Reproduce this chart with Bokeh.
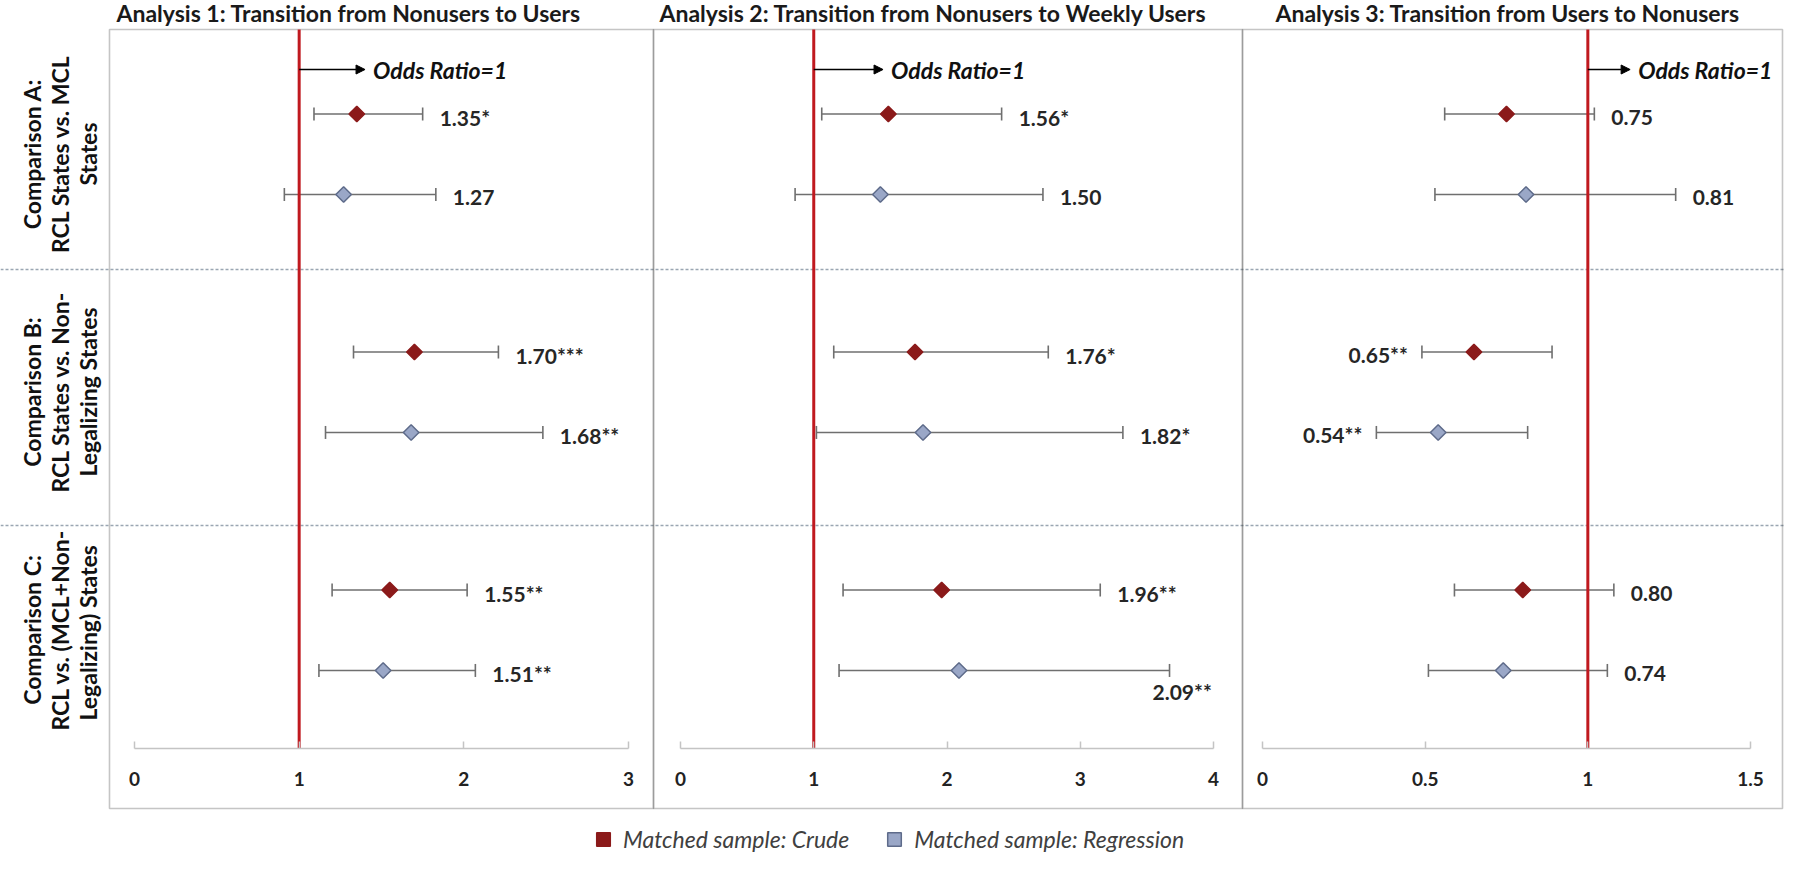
import math
from bokeh.plotting import figure
from bokeh.models import (Range1d, LinearAxis, FixedTicker, Whisker, TeeHead, ColumnDataSource,
                          Span, BoxAnnotation, Arrow, NormalHead, Legend, LegendItem)
from bokeh.embed import file_html
from bokeh.resources import INLINE
from bokeh.core.properties import value

# ---------------- data ----------------
panel_titles = ["Analysis 1: Transition from Nonusers to Users",
                "Analysis 2: Transition from Nonusers to Weekly Users",
                "Analysis 3: Transition from Users to Nonusers"]
comparisons = ["Comparison A:\nRCL States vs. MCL\nStates",
               "Comparison B:\nRCL States vs. Non-\nLegalizing States",
               "Comparison C:\nRCL vs. (MCL+Non-\nLegalizing)  States"]
x_ticks = [[0, 1, 2, 3], [0, 1, 2, 3, 4], [0, 0.5, 1, 1.5]]
x_tick_labels = [["0", "1", "2", "3"], ["0", "1", "2", "3", "4"], ["0", "0.5", "1", "1.5"]]
series_names = ["Matched sample: Crude", "Matched sample: Regression"]

# odds ratios per panel (Analysis 1..3), per comparison (A, B, C)
crude_or = [[1.35, 1.70, 1.55], [1.56, 1.76, 1.96], [0.75, 0.65, 0.80]]
crude_lo = [[1.09, 1.33, 1.20], [1.06, 1.15, 1.22], [0.56, 0.49, 0.59]]
crude_hi = [[1.75, 2.21, 2.02], [2.41, 2.76, 3.15], [1.02, 0.89, 1.08]]
crude_txt = [["1.35*", "1.70***", "1.55**"], ["1.56*", "1.76*", "1.96**"], ["0.75", "0.65**", "0.80"]]

reg_or = [[1.27, 1.68, 1.51], [1.50, 1.82, 2.09], [0.81, 0.54, 0.74]]
reg_lo = [[0.91, 1.16, 1.12], [0.86, 1.02, 1.19], [0.53, 0.35, 0.51]]
reg_hi = [[1.83, 2.48, 2.07], [2.72, 3.32, 3.67], [1.27, 0.815, 1.06]]
reg_txt = [["1.27", "1.68**", "1.51**"], ["1.50", "1.82*", "2.09**"], ["0.81", "0.54**", "0.74"]]

# label placement (layout): r = right of CI, l = left of CI, b = below right end
crude_pos = [["r", "r", "r"], ["r", "r", "r"], ["r", "l", "r"]]
reg_pos = [["r", "r", "r"], ["r", "r", "b"], ["r", "l", "r"]]

# ---------------- layout (page pixels) ----------------
W, H = 1784, 858
PX0, PY0 = 8, 8
box_x = [(117, 661), (661, 1250), (1250, 1790)]
box_top, box_bottom = 37, 816
axis_y = 756
axis_px = [(142, 636), (688, 1221), (1270, 1758)]
title_x = [124, 667, 1283]
title_y = 20
arrow_y = 77
arrow_end = [1.40, 1.52, 1.13]
sep_y = [277, 533]
grp_center0, grp_step = 161.5, 238.0
off_crude, off_reg = -0.168, 0.170

FONT = "Lato"
RED = "#C0191F"
CRUDE_C = "#8B1A1A"
REG_FILL = "#9AA7C7"
REG_LINE = "#5E6B8A"
BAR_C = "#6f6f6f"
BOX_C = "#404040"

p = figure(width=W, height=H, output_backend="svg", toolbar_location=None,
           x_range=Range1d(PX0, PX0 + W), y_range=Range1d(PY0 + H, PY0),
           x_axis_location=None, y_axis_location=None,
           min_border_left=0, min_border_right=0, min_border_top=0, min_border_bottom=0)
p.outline_line_color = None
p.xgrid.visible = False
p.ygrid.visible = False
p.background_fill_color = "white"

p.extra_y_ranges = {"rows": Range1d((PY0 + H - grp_center0) / grp_step, (PY0 - grp_center0) / grp_step)}

# separators
for sy in sep_y:
    p.add_layout(Span(location=sy, dimension="width", line_color="#9aa6b2", line_width=1.3,
                      line_dash="3 2", level="underlay"))

# panel boxes
for (bl, br) in box_x:
    p.add_layout(BoxAnnotation(left=bl, right=br, top=box_top, bottom=box_bottom,
                               fill_alpha=0, line_color=BOX_C, line_width=1.6, level="underlay"))

# titles
p.text(x=title_x, y=[title_y] * 3, text=panel_titles, text_font=value(FONT),
       text_font_style="bold", text_font_size="23px", text_color="#1a1a1a",
       text_baseline="middle", text_align="left")

# comparison labels axis
yax = LinearAxis(y_range_name="rows", fixed_location=box_x[0][0],
                 ticker=FixedTicker(ticks=[0, 1, 2]),
                 major_label_overrides={i: c for i, c in enumerate(comparisons)},
                 major_label_orientation="vertical",
                 axis_line_color=None, major_tick_line_color=None, minor_tick_line_color=None,
                 major_tick_in=0, major_tick_out=0,
                 major_label_text_font=FONT, major_label_text_font_style="bold",
                 major_label_text_font_size="23px", major_label_text_color="#111111",
                 major_label_standoff=8, major_label_text_line_height=1.0)
p.add_layout(yax, "left")

legend_renderers = {}
for i in range(3):
    name = f"p{i}"
    v0, v1 = x_ticks[i][0], x_ticks[i][-1]
    p0, p1 = axis_px[i]
    k = (v1 - v0) / (p1 - p0)
    p.extra_x_ranges[name] = Range1d(v0 + (PX0 - p0) * k, v0 + (PX0 + W - p0) * k)

    # x axis inside the box
    ax = LinearAxis(x_range_name=name, fixed_location=axis_y,
                    ticker=FixedTicker(ticks=x_ticks[i]), bounds=(v0, v1),
                    major_label_overrides={t: l for t, l in zip(x_ticks[i], x_tick_labels[i])},
                    axis_line_color="#c4c4c4", axis_line_width=1.5,
                    major_tick_line_color="#c4c4c4", major_tick_line_width=1.5,
                    major_tick_in=7, major_tick_out=0, minor_tick_line_color=None,
                    major_label_text_font=FONT, major_label_text_font_style="bold",
                    major_label_text_font_size="19px", major_label_text_color="#222222",
                    major_label_standoff=23)
    p.add_layout(ax, "below")

    # odds ratio = 1 reference line
    p.segment(x0=[1], x1=[1], y0=[box_top], y1=[axis_y], x_range_name=name,
              line_color=RED, line_width=3)
    p.add_layout(Arrow(x_start=1, x_end=arrow_end[i], y_start=arrow_y, y_end=arrow_y,
                       x_range_name=name, line_color="black", line_width=1.6,
                       end=NormalHead(size=9, fill_color="black", line_color="black")))
    p.text(x=[arrow_end[i]], y=[arrow_y], text=["Odds Ratio=1"], x_range_name=name,
           x_offset=8, text_font=value(FONT), text_font_style="bold italic",
           text_font_size="23px", text_color="#111111", text_baseline="middle")

    for (ors, los, his, txts, poss, off, fill, line, key) in [
            (crude_or, crude_lo, crude_hi, crude_txt, crude_pos, off_crude, CRUDE_C, CRUDE_C, 0),
            (reg_or, reg_lo, reg_hi, reg_txt, reg_pos, off_reg, REG_FILL, REG_LINE, 1)]:
        ys = [g + off for g in range(3)]
        lab_x, lab_align, lab_xo, lab_yo = [], [], [], []
        for g in range(3):
            pos = poss[i][g]
            if pos == "r":
                lab_x.append(his[i][g]); lab_align.append("left"); lab_xo.append(17); lab_yo.append(3)
            elif pos == "l":
                lab_x.append(los[i][g]); lab_align.append("right"); lab_xo.append(-14); lab_yo.append(2)
            else:
                lab_x.append(his[i][g]); lab_align.append("left"); lab_xo.append(-17); lab_yo.append(21)
        src = ColumnDataSource(dict(y=ys, orv=ors[i], lo=los[i], hi=his[i], txt=txts[i],
                                    lx=lab_x, la=lab_align, lxo=lab_xo, lyo=lab_yo))
        p.add_layout(Whisker(source=src, base="y", lower="lo", upper="hi", dimension="width",
                             x_range_name=name, y_range_name="rows",
                             line_color=BAR_C, line_width=1.6, level="underlay",
                             lower_head=TeeHead(size=13, line_color=BAR_C, line_width=1.6),
                             upper_head=TeeHead(size=13, line_color=BAR_C, line_width=1.6)))
        r = p.scatter(x="orv", y="y", source=src, x_range_name=name, y_range_name="rows",
                      marker="square", angle=math.pi / 4, size=11,
                      fill_color=fill, line_color=line, line_width=1.5)
        legend_renderers.setdefault(key, r)
        p.text(x="lx", y="y", text="txt", source=src, x_range_name=name, y_range_name="rows",
               x_offset="lxo", y_offset="lyo", text_align="la", text_baseline="middle",
               text_font=value(FONT), text_font_style="bold", text_font_size="21px",
               text_color="#262626")

legend = Legend(items=[LegendItem(label=series_names[0], renderers=[legend_renderers[0]]),
                       LegendItem(label=series_names[1], renderers=[legend_renderers[1]])],
                orientation="horizontal", location=(586, 2), border_line_color=None,
                background_fill_alpha=0, label_text_font=FONT, label_text_font_style="italic",
                label_text_font_size="23px", label_text_color="#404040",
                glyph_width=34, glyph_height=34, spacing=28, padding=0, margin=0,
                label_standoff=3)
p.add_layout(legend)

open("out.html", "w").write(file_html(p, INLINE))
